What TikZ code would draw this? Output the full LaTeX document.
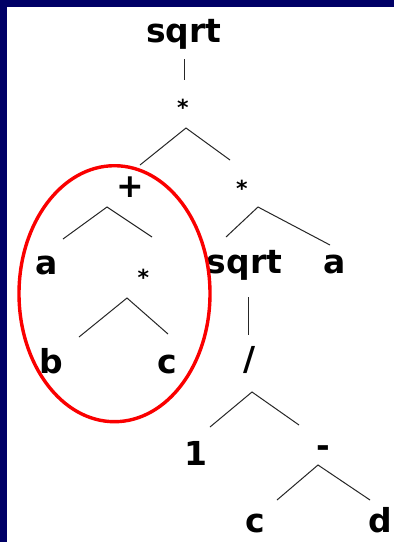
\documentclass[tikz,border=0pt]{standalone}
\usepackage{fontspec}
\setmainfont{DejaVu Sans}
\usepackage{tikz}
\usetikzlibrary{positioning}

\definecolor{slideblue}{RGB}{0,0,102}
\definecolor{ringred}{RGB}{250,0,0}

\begin{document}
\begin{tikzpicture}[
    x=1pt, y=-1pt,
    sym/.style={anchor=base, inner sep=0pt, font=\fontsize{33}{38}\selectfont\bfseries},
    star/.style={anchor=base, inner sep=0pt, font=\fontsize{22}{26}\selectfont\bfseries},
    branch/.style={line width=1pt, black!85},
    ring/.style={draw=ringred, line width=3.4pt}
]
    % Frame
    \useasboundingbox (0,0) rectangle (394,542);
    \fill[white] (0,0) rectangle (394,542);
    \fill[slideblue] (0,0) rectangle (394,7);
    \fill[slideblue] (0,0) rectangle (7,542);

    % Root
    \node[sym] (sqrtA) at (184,42) {sqrt};
    \node[star] (timesA) at (183,115) {*};

    % Left subtree
    \node[sym] (plus) at (130,197) {+};
    \node[sym] (aA) at (47,274) {a};
    \node[star] (timesC) at (143.5,285) {*};
    \node[sym] (b) at (51,373) {b};
    \node[sym] (cA) at (167,373) {c};

    % Right subtree
    \node[star] (timesB) at (242,196.5) {*};
    \node[sym] (sqrtB) at (244.5,273) {sqrt};
    \node[sym] (aB) at (334.5,273) {a};
    \node[sym] (div) at (250,370) {/};
    \node[sym] (one) at (196,465) {1};
    \node[sym] (minus) at (323,457.5) {-};
    \node[sym] (cB) at (255,532) {c};
    \node[sym] (d) at (380.5,532) {d};

    % Branch points
    \coordinate (sqrtA-dn) at (184,59);
    \coordinate (timesA-up) at (184,80);
    \coordinate (timesA-top) at (186,128);
    \coordinate (timesA-l) at (140,165);
    \coordinate (timesA-r) at (230,160);
    \coordinate (plus-top) at (107,207);
    \coordinate (plus-l) at (63,239);
    \coordinate (plus-r) at (152,237);
    \coordinate (timesB-top) at (258,207);
    \coordinate (timesB-l) at (226,237);
    \coordinate (timesB-r) at (330,245);
    \coordinate (timesC-top) at (127,298);
    \coordinate (timesC-l) at (79,337);
    \coordinate (timesC-r) at (168,334);
    \coordinate (sqrtB-dn) at (248,297);
    \coordinate (div-up) at (248,335);
    \coordinate (div-top) at (252,392);
    \coordinate (div-l) at (210,427);
    \coordinate (div-r) at (299,425);
    \coordinate (minus-top) at (318,465);
    \coordinate (minus-l) at (277,500);
    \coordinate (minus-r) at (370,500);

    % Branches
    \draw[branch] (sqrtA-dn) -- (timesA-up);
    \draw[branch] (timesA-l) -- (timesA-top) -- (timesA-r);
    \draw[branch] (plus-l) -- (plus-top) -- (plus-r);
    \draw[branch] (timesB-l) -- (timesB-top) -- (timesB-r);
    \draw[branch] (timesC-l) -- (timesC-top) -- (timesC-r);
    \draw[branch] (sqrtB-dn) -- (div-up);
    \draw[branch] (div-l) -- (div-top) -- (div-r);
    \draw[branch] (minus-l) -- (minus-top) -- (minus-r);

    % Highlight
    \draw[ring] (114.5,293.7) ellipse [x radius=95.5, y radius=128];

\end{tikzpicture}
\end{document}
